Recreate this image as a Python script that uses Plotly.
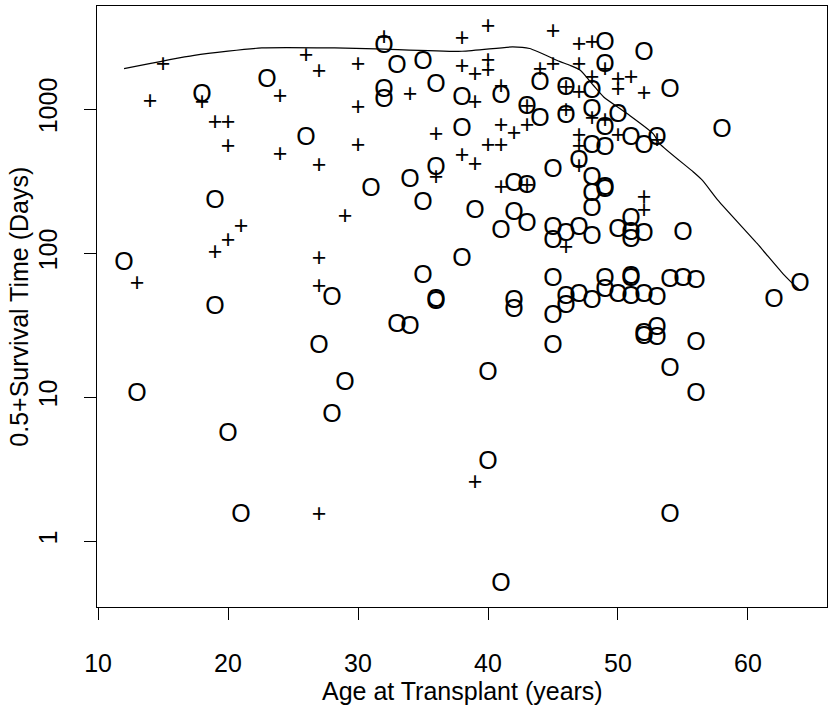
import plotly.graph_objects as go

# Deaths (plotted as "O")
dead_age = [12, 13, 18, 19, 19, 20, 21, 23, 26, 27, 28, 28, 29, 31,
            32, 32, 32, 33, 33, 34, 34, 35, 35, 35,
            36, 36, 36, 36, 38, 38, 38, 39, 40, 40, 41, 41, 41,
            42, 42, 42, 42, 43, 43, 43, 44, 44,
            45, 45, 45, 45, 45, 45, 46, 46, 46, 46, 46, 47, 47, 47,
            48, 48, 48, 48, 48, 48, 48, 48,
            49, 49, 49, 49, 49, 49, 49, 49, 50, 50, 50,
            51, 51, 51, 51, 51, 51, 51, 52, 52, 52, 52, 52, 52,
            53, 53, 53, 53, 54, 54, 54, 54, 55, 55, 56, 56, 56, 58, 62, 64]
dead_time = [84, 10.5, 1240, 227, 42, 5.5, 1.5, 1590, 626, 22.5, 48.5, 7.5, 12.5, 274,
             2708, 1355, 1155, 1968, 31.5, 321, 30.5, 2110, 221, 68.5,
             1468, 387, 47, 45, 1186, 723, 90.5, 194, 14.5, 3.5, 1230, 140, 0.5,
             297, 189, 46, 40, 1030, 288, 159, 1508, 839,
             377, 148, 120, 65, 36.5, 22.5, 1392, 890, 135, 49.5, 42.5, 431, 148, 51,
             1330, 984, 547, 330, 255, 202, 128, 46,
             2858, 2021, 734, 533, 280, 270, 65, 55, 908, 144, 51,
             626, 172, 137, 123, 68, 65, 49, 2437, 547, 135, 51, 27, 26,
             626, 48.5, 30, 25.5, 1355, 64, 15.5, 1.5, 137, 65, 63, 23.5, 10.5, 715, 47, 60]

# Censored (plotted as "+")
cens_age = [13, 14, 15, 18, 19, 19, 20, 20, 20, 21, 24, 24, 26,
            27, 27, 27, 27, 27, 29, 30, 30, 30, 32, 34, 36, 36,
            38, 38, 38, 39, 39, 39, 39, 40, 40, 40, 40, 41, 41, 41, 41,
            42, 43, 43, 43, 44, 45, 45, 46, 46, 46,
            47, 47, 47, 47, 47, 47, 48, 48, 48, 49, 49, 50, 50, 50, 51, 52, 52, 52, 53]
cens_time = [60.5, 1106, 1999, 1096, 787, 99.5, 787, 539, 120, 151, 1198, 472, 2307,
             1786, 397, 90.5, 57.5, 1.5, 177, 2021, 1011, 553, 3097, 1250, 660, 330,
             3015, 1940, 466, 1722, 1096, 408, 2.5, 3695.5, 2131, 1816, 547, 1400, 753, 553, 281,
             670, 1030, 753, 288, 1866, 3410, 2021, 1392, 960, 108,
             2782, 2021, 1285, 643, 540, 392, 2858, 1633, 850, 1866, 817, 1590, 1340, 643, 1620, 1268, 240, 195, 593]

# Smooth curve
curve_age = [12, 17.4, 22.6, 28.2, 31.4, 38.0, 41.9, 43.2, 45.5, 46.3, 47.1, 48.1,
             48.9, 50.7, 52.7, 53.2, 55.8, 56.5, 57.7, 60.7, 62.7, 64]
curve_time = [1917, 2370, 2666, 2666, 2630, 2528, 2708, 2640, 2150, 2021, 1866, 1468,
              1217, 934, 678, 578, 367, 321, 233, 117, 72, 55]

FONT = "Liberation Sans, Arial, Helvetica, sans-serif"
FS = 25

fig = go.Figure()
fig.add_trace(go.Scatter(x=dead_age, y=dead_time, mode="text", text=["O"] * len(dead_age),
                         textposition="middle center",
                         textfont=dict(family=FONT, size=FS, color="black"),
                         showlegend=False, hoverinfo="x+y"))
fig.add_trace(go.Scatter(x=cens_age, y=cens_time, mode="text", text=["+"] * len(cens_age),
                         textposition="middle center",
                         textfont=dict(family=FONT, size=FS, color="black"),
                         showlegend=False, hoverinfo="x+y"))
fig.add_trace(go.Scatter(x=curve_age, y=curve_time, mode="lines",
                         line=dict(color="black", width=1.2, shape="spline", smoothing=0.6),
                         showlegend=False))

fig.update_layout(
    width=828, height=705,
    margin=dict(l=97, r=1, t=6, b=98, autoexpand=False),
    paper_bgcolor="white", plot_bgcolor="white",
    font=dict(family=FONT, size=FS, color="black"),
    xaxis=dict(range=[9.92, 66.08], tickvals=[10, 20, 30, 40, 50, 60],
               ticks="outside", ticklen=12, tickcolor="black", tickwidth=1,
               showline=True, linecolor="black", linewidth=1, mirror=True,
               showgrid=False, zeroline=False, ticklabelstandoff=22, automargin=False,
               tickfont=dict(family=FONT, size=FS, color="black")),
    yaxis=dict(type="log", range=[-0.456, 3.717], tickvals=[1, 10, 100, 1000],
               ticktext=["1", "10", "100", "1000"],
               ticks="outside", ticklen=12, tickcolor="black", tickwidth=1,
               showline=True, linecolor="black", linewidth=1, mirror=True,
               showgrid=False, zeroline=False, tickangle=-90, ticklabelstandoff=17,
               automargin=False,
               tickfont=dict(family=FONT, size=FS, color="black")),
    annotations=[
        dict(text="Age at Transplant (years)", xref="paper", yref="paper",
             x=0.5, y=-0.14, xanchor="center", yanchor="middle", showarrow=False,
             font=dict(family=FONT, size=FS, color="black")),
        dict(text="0.5+Survival Time (Days)", xref="paper", yref="paper",
             x=-0.108, y=0.5, xanchor="center", yanchor="middle", textangle=-90,
             showarrow=False, font=dict(family=FONT, size=FS, color="black")),
    ],
)

fig.write_html("out.html", config={"displayModeBar": False},
               post_script="document.body.style.margin='0';document.body.style.overflow='hidden';")
